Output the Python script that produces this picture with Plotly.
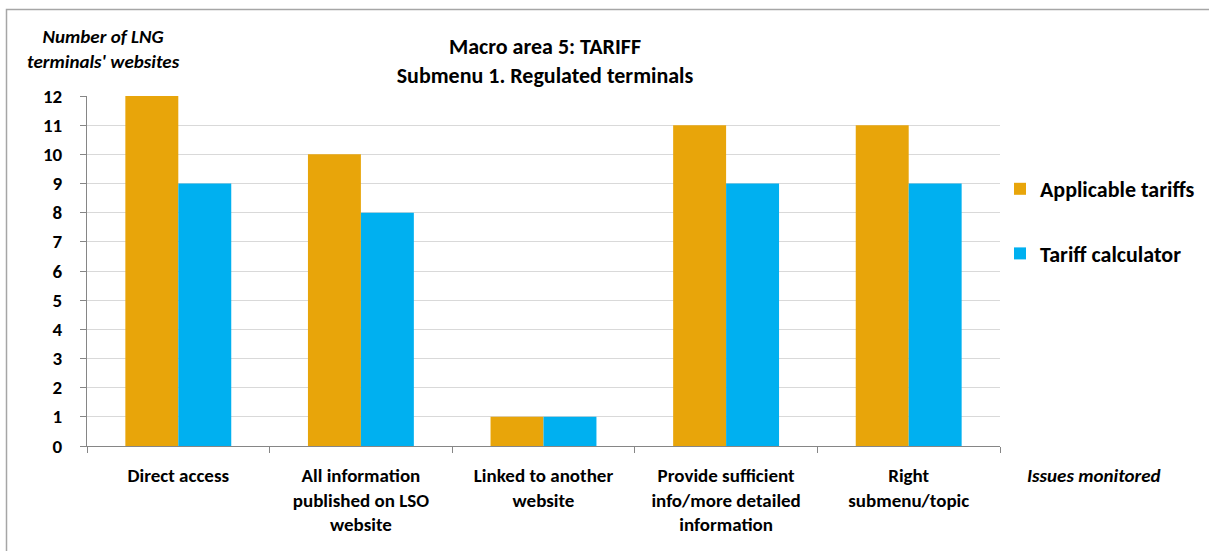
import plotly.graph_objects as go

# Datos del gráfico
categories = [
    "Direct access",
    "All information<br>published on LSO<br>website",
    "Linked to another<br>website",
    "Provide sufficient<br>info/more detailed<br>information",
    "Right<br>submenu/topic",
]
applicable_tariffs = [12, 10, 1, 11, 11]
tariff_calculator = [9, 8, 1, 9, 9]
y_ticks = list(range(0, 13))

FONT = "Carlito, Lato, 'Liberation Sans', sans-serif"

fig = go.Figure()

fig.add_trace(go.Bar(
    x=categories,
    y=applicable_tariffs,
    name="<b>Applicable tariffs</b>",
    marker=dict(color="#E8A50A", line=dict(width=0)),
    legendgroup="a",
))
fig.add_trace(go.Bar(
    x=categories,
    y=tariff_calculator,
    name="<b>Tariff calculator</b>",
    marker=dict(color="#00B0F0", line=dict(width=0)),
    legendgroup="b",
))

W, H = 1209, 551
L, R, T, B = 87, 209, 96, 105
pw, ph = W - L - R, H - T - B

def px_x(px):
    return (px - L) / pw

def px_y(py):
    return 1 - (py - T) / ph

# Borde exterior del gráfico (estilo Excel)
fig.add_shape(
    type="rect", xref="paper", yref="paper",
    x0=px_x(6.5), x1=px_x(1215), y0=px_y(600), y1=px_y(9.5),
    line=dict(color="#A6A6A6", width=1.5), fillcolor="rgba(0,0,0,0)",
    layer="below",
)

fig.add_annotation(
    text="<b><i>Number of LNG<br>terminals' websites</i></b>",
    xref="paper", yref="paper", x=px_x(103), y=px_y(49),
    xanchor="center", yanchor="middle", showarrow=False,
    font=dict(size=19, color="black", family=FONT), align="center",
)
fig.add_annotation(
    text="<b><i>Issues monitored</i></b>",
    xref="paper", yref="paper", x=px_x(1025), y=px_y(476),
    xanchor="left", yanchor="middle", showarrow=False,
    font=dict(size=19, color="black", family=FONT),
)

fig.update_layout(
    width=W, height=H,
    title=dict(
        text="<b>Macro area 5: TARIFF<br>Submenu 1. Regulated terminals</b>",
        x=px_x(545), xanchor="center", xref="paper",
        y=1 - 54 / H, yanchor="middle",
        font=dict(size=22, color="black", family=FONT),
    ),
    barmode="group",
    bargap=0.42,
    bargroupgap=0,
    plot_bgcolor="white",
    paper_bgcolor="white",
    margin=dict(l=L, r=R, t=T, b=B, autoexpand=False),
    font=dict(family=FONT, color="black", size=19),
    legend=dict(
        x=px_x(1000), y=px_y(168), xanchor="left", yanchor="top",
        font=dict(size=22, color="black", family=FONT),
        traceorder="grouped", tracegroupgap=33,
        itemwidth=30,
    ),
    showlegend=True,
)

fig.update_xaxes(
    type="category",
    automargin=False,
    showline=True, linecolor="#868686", linewidth=1,
    ticks="outside", tickson="boundaries", ticklen=6, tickcolor="#868686",
    tickfont=dict(size=19, color="black", family=FONT),
    ticklabelstandoff=12,
    showgrid=False,
    tickvals=categories,
    ticktext=[f"<b>{c}</b>" for c in categories],
)
fig.update_yaxes(
    range=[0, 12],
    automargin=False,
    tickvals=y_ticks,
    ticktext=[f"<b>{v}</b>" for v in y_ticks],
    showline=True, linecolor="#868686", linewidth=1,
    ticks="outside", ticklen=6, tickcolor="#868686",
    tickfont=dict(size=19, color="black", family=FONT),
    ticklabelstandoff=14,
    showgrid=True, gridcolor="#D9D9D9", gridwidth=1,
    zeroline=False,
)

fig.write_html(
    "out.html",
    config={"displayModeBar": False},
    post_script="document.body.style.margin='0';",
)
